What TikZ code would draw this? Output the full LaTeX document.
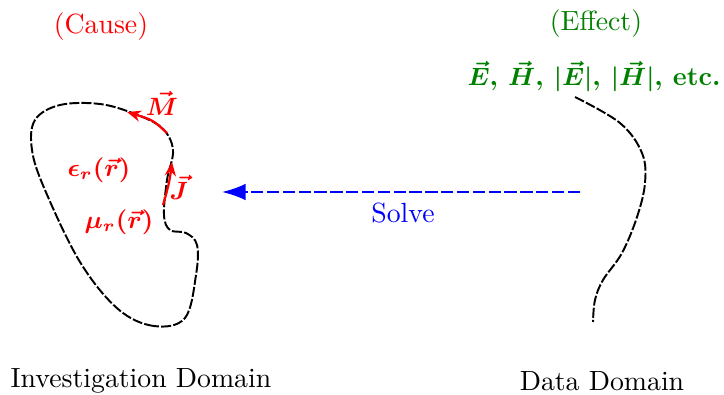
\documentclass[tikz,border=0pt]{standalone}
\usetikzlibrary{arrows.meta}
\definecolor{effgreen}{RGB}{0,128,0}
\newcommand{\bmtext}[1]{{\boldmath\bfseries#1}}
\begin{document}
\begin{tikzpicture}[x=0.36pt,y=-0.36pt,
  boundary/.style={black,line width=0.7pt,dash pattern=on 3.6pt off 0.8pt},
  redarrow/.style={red,line width=0.8pt,-{Stealth[length=5pt,width=4pt]}},
  solvearrow/.style={blue,line width=0.75pt,dash pattern=on 4.4pt off 1.3pt,-{Latex[length=8.5pt,width=6pt]}},
  lbl/.style={inner sep=0pt},
  mathlbl/.style={inner sep=0pt,font=\small}]
\useasboundingbox (0,0) rectangle (724,395);
% investigation domain boundary
\draw[boundary] plot[smooth cycle,tension=0.6] coordinates {
  (185,318) (154,326) (118,309) (80,262) (45,190) (32,150) (35,120) (60,105) (100,104) (135,114) (162,128)
  (173,150) (167,180) (164,215) (170,230) (186,233) (197,245) (196,275)};
% data domain curve
\draw[boundary] plot[smooth,tension=0.6] coordinates {
  (575,97) (620,123) (642,153) (645,183) (637,217) (622,253) (603,280) (595,300) (593,322)};
% sources
\coordinate (m1) at (167,133);
\coordinate (m2) at (127,112);
\coordinate (j1) at (163,205);
\coordinate (j2) at (172,162);
\draw[redarrow] (m1) .. controls (153,120) .. (m2);
\draw[redarrow] (j1) to[bend right=5] (j2);
\node[mathlbl,text=red] (M) at (162,103) {\bmtext{$\vec{M}$}};
\node[mathlbl,text=red] (J) at (179,187) {\bmtext{$\vec{J}$}};
\node[mathlbl,text=red] (eps) at (99,170) {\bmtext{$\epsilon_r(\vec{r})$}};
\node[mathlbl,text=red] (mu) at (119,222) {\bmtext{$\mu_r(\vec{r})$}};
\node[lbl,text=red] (cause) at (101,27) {(Cause)};
\node[lbl,text=effgreen] (effect) at (596,24) {(Effect)};
\node[inner sep=0pt,font=\fontsize{9.5}{11}\selectfont,text=effgreen,anchor=west] (fields) at (467,77) {\bmtext{$\vec{E}$, $\vec{H}$, $|\vec{E}|$, $|\vec{H}|$, etc.}};
% solve arrow
\coordinate (s1) at (580,192);
\coordinate (s2) at (222,192);
\draw[solvearrow] (s1) -- (s2);
\node[lbl,text=blue] (solve) at (403,213) {Solve};
\node[lbl] (inv) at (141,381) {Investigation Domain};
\node[lbl] (data) at (602,381) {Data Domain};
\end{tikzpicture}
\end{document}
